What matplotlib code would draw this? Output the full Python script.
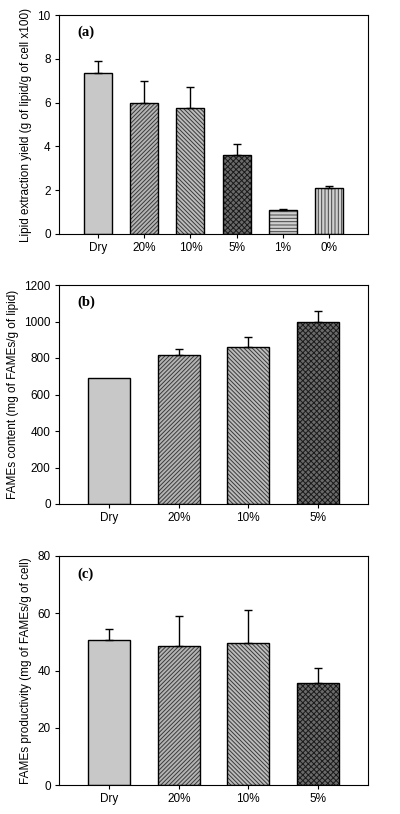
import matplotlib
matplotlib.use("Agg")
import matplotlib.pyplot as plt
import numpy as np

plt.rcParams["font.family"] = ["Liberation Sans", "DejaVu Sans"]
plt.rcParams["hatch.linewidth"] = 0.7

# panel (a): lipid extraction yield
cats_a = ["Dry", "20%", "10%", "5%", "1%", "0%"]
yield_a = [7.35, 6.0, 5.77, 3.6, 1.08, 2.08]
err_a = [0.55, 1.0, 0.95, 0.52, 0.05, 0.1]

# panel (b): FAMEs content
cats_b = ["Dry", "20%", "10%", "5%"]
fames_b = [693, 815, 858, 1000]
err_b = [0, 32, 55, 55]

# panel (c): FAMEs productivity
cats_c = ["Dry", "20%", "10%", "5%"]
prod_c = [50.8, 48.7, 49.5, 35.8]
err_c = [3.8, 10.2, 11.8, 5.2]

# fill style per category
styles = {
    "Dry": ("#c8c8c8", None, "#c8c8c8"),
    "20%": ("#b4b4b4", "////////", "#3a3a3a"),
    "10%": ("#bcbcbc", "\\\\\\\\\\\\\\\\", "#3a3a3a"),
    "5%": ("#6a6a6a", "xxxxxx", "#1a1a1a"),
    "1%": ("#d0d0d0", "-----", "#444444"),
    "0%": ("#d0d0d0", "|||||", "#444444"),
}


def panel(ax, cats, vals, errs, ylim, step, ylabel, tag):
    x = np.arange(len(cats))
    for i, c in enumerate(cats):
        fc, hatch, hc = styles[c]
        ax.bar(x[i], vals[i], width=0.6, color=fc, hatch=hatch,
               edgecolor=hc, linewidth=0, zorder=2)
        ax.bar(x[i], vals[i], width=0.6, fill=False, edgecolor="black",
               linewidth=1.0, zorder=3)
    has = [i for i in range(len(cats)) if errs[i] > 0]
    ax.errorbar(x[has], np.array(vals)[has],
                yerr=[np.zeros(len(has)), np.array(errs)[has]],
                fmt="none", ecolor="black", elinewidth=1.0, capsize=3,
                capthick=1.0, zorder=4)
    ax.set_xticks(x)
    ax.set_xticklabels(cats, fontsize=8.5)
    pad = 0.84 if len(cats) == 6 else 0.72
    ax.set_xlim(-pad, len(cats) - 1 + pad)
    ax.set_ylim(*ylim)
    ax.set_yticks(np.arange(ylim[0], ylim[1] + step / 2, step))
    ax.tick_params(axis="both", direction="out", length=3, labelsize=8.5,
                   width=0.8, pad=3)
    ax.set_ylabel(ylabel, fontsize=8.5, labelpad=4)
    ax.text(0.06, 0.92, tag, transform=ax.transAxes, fontsize=10.5,
            fontweight="bold", family="Liberation Serif", va="center")
    for s in ax.spines.values():
        s.set_linewidth(0.8)


fig = plt.figure(figsize=(4.0, 8.14), dpi=100)
W, H = 400, 814
boxes = [(59, 15, 309, 219), (59, 285, 309, 219), (59, 556, 309, 229)]
axes = [fig.add_axes([l / W, 1 - (t + h) / H, w / W, h / H]) for l, t, w, h in boxes]

panel(axes[0], cats_a, yield_a, err_a, (0, 10), 2,
      "Lipid extraction yield (g of lipid/g of cell x100)", "(a)")
panel(axes[1], cats_b, fames_b, err_b, (0, 1200), 200,
      "FAMEs content (mg of FAMEs/g of lipid)", "(b)")
panel(axes[2], cats_c, prod_c, err_c, (0, 80), 20,
      "FAMEs productivity (mg of FAMEs/g of cell)", "(c)")

fig.savefig("out.png", dpi=100)
